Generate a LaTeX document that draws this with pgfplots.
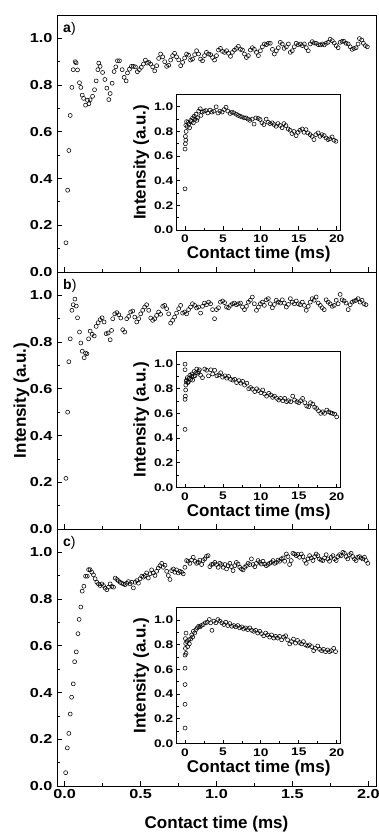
\documentclass[border=0pt]{standalone}
\usepackage{pgfplots}
\pgfplotsset{compat=1.18}
\usepackage{fontspec}
\setmainfont{Liberation Sans}
\newfontfamily\tickfont[FakeStretch=1.25]{Liberation Sans}
\pgfplotsset{
  common/.style={
    scale only axis,
    ymin=0, ymax=1.1,
    axis line style={black, line width=0.9pt},
    tick align=inside, xtick pos=bottom, ytick pos=left,
    tick style={black, line width=0.8pt},
    ytick={0,0.2,0.4,0.6,0.8,1.0},
    minor ytick={0.1,0.3,0.5,0.7,0.9},
    yticklabels={0.0,0.2,0.4,0.6,0.8,1.0},
    label style={font=\bfseries\fontsize{17}{17}\selectfont},
  },
  mainax/.style={common,
    width=319pt, height=257pt,
    xmin=-0.05, xmax=2.05,
    xtick={0,0.5,1,1.5,2}, minor xtick={0.25,0.75,1.25,1.75},
    xticklabels={0.0,0.5,1.0,1.5,2.0},
    major tick length=4.5pt, minor tick length=2.5pt,
    tick label style={font=\tickfont\bfseries\fontsize{13}{13}\selectfont},
    yticklabel style={xshift=-1pt},
    xlabel style={yshift=-11pt},
    ylabel style={yshift=-6.5pt},
  },
  inax/.style={common,
    width=164pt, height=135.5pt,
    xmin=-1.1, xmax=20.53,
    xtick={0,5,10,15,20}, minor xtick={2.5,7.5,12.5,17.5},
    xticklabels={0,5,10,15,20},
    major tick length=3.5pt, minor tick length=2pt,
    tick label style={font=\tickfont\bfseries\fontsize{11}{11}\selectfont},
    xticklabel style={yshift=-1.5pt},
    xlabel={Contact time (ms)}, ylabel={Intensity (a.u.)},
    xlabel style={yshift=3pt},
    ylabel style={yshift=-2pt},
    axis background/.style={fill=white},
  },
  pts/.style={only marks, mark=o, mark size=2pt, black, line width=0.55pt},
}
\begin{document}
\begin{tikzpicture}
% ---------------- panel a ----------------
\begin{axis}[mainax, at={(57pt,560pt)}, anchor=south west, xticklabels={}]
\node[anchor=north west, inner sep=0pt, font=\fontsize{14}{14}\selectfont] at ([shift={(6pt,-7pt)}]rel axis cs:0,1) {\textbf{a})};
\addplot[pts] coordinates {
(0.009,0.125)(0.020,0.35)(0.028,0.52)(0.037,0.67)(0.048,0.79)(0.057,0.866)(0.070,0.90)(0.076,0.895)
(0.085,0.865)(0.098,0.81)(0.107,0.79)(0.116,0.757)(0.125,0.743)(0.138,0.714)(0.151,0.735)(0.160,0.72)
(0.168,0.737)(0.184,0.752)(0.197,0.78)(0.208,0.818)(0.219,0.866)(0.225,0.894)(0.234,0.88)(0.250,0.854)
(0.265,0.824)(0.278,0.787)(0.291,0.738)(0.300,0.764)(0.313,0.808)(0.326,0.858)(0.337,0.878)(0.348,0.904)
(0.361,0.904)(0.379,0.866)(0.392,0.833)(0.405,0.818)(0.414,0.852)(0.427,0.868)(0.440,0.88)(0.453,0.88)
(0.466,0.878)(0.479,0.857)(0.492,0.866)(0.505,0.876)(0.519,0.89)(0.532,0.907)(0.543,0.894)(0.554,0.897)
(0.567,0.89)(0.580,0.878)(0.593,0.861)(0.606,0.883)(0.619,0.914)(0.632,0.933)(0.646,0.921)(0.659,0.90)
(0.672,0.88)(0.685,0.885)(0.698,0.907)(0.711,0.926)(0.724,0.936)(0.737,0.921)(0.751,0.908)(0.764,0.883)
(0.777,0.897)(0.790,0.916)(0.803,0.933)(0.816,0.928)(0.829,0.907)(0.842,0.911)(0.856,0.93)(0.869,0.947)
(0.882,0.933)(0.895,0.911)(0.908,0.904)(0.921,0.926)(0.934,0.94)(0.948,0.933)(0.961,0.93)(0.974,0.918)
(0.987,0.907)(1.000,0.926)(1.013,0.95)(1.026,0.957)(1.040,0.944)(1.053,0.94)(1.066,0.947)(1.079,0.936)
(1.092,0.923)(1.105,0.94)(1.118,0.95)(1.131,0.957)(1.144,0.966)(1.158,0.953)(1.171,0.95)(1.184,0.933)
(1.197,0.918)(1.210,0.926)(1.223,0.95)(1.236,0.96)(1.249,0.953)(1.263,0.94)(1.276,0.926)(1.289,0.947)
(1.302,0.964)(1.315,0.976)(1.328,0.973)(1.341,0.979)(1.354,0.979)(1.368,0.953)(1.381,0.933)(1.394,0.947)
(1.407,0.96)(1.420,0.983)(1.433,0.976)(1.446,0.957)(1.460,0.964)(1.473,0.976)(1.486,0.94)(1.499,0.947)
(1.512,0.964)(1.525,0.979)(1.538,0.973)(1.551,0.976)(1.565,0.969)(1.578,0.976)(1.591,0.96)(1.604,0.947)
(1.617,0.976)(1.630,0.986)(1.643,0.98)(1.656,0.979)(1.670,0.973)(1.683,0.972)(1.696,0.976)(1.709,0.972)
(1.722,0.979)(1.735,0.983)(1.748,0.996)(1.762,0.99)(1.775,0.98)(1.788,0.969)(1.801,0.96)(1.814,0.983)
(1.827,0.987)(1.840,0.987)(1.853,0.979)(1.867,0.976)(1.880,0.964)(1.893,0.953)(1.906,0.957)(1.919,0.96)
(1.932,0.976)(1.941,0.999)(1.956,0.993)(1.967,0.979)(1.980,0.969)(1.993,0.964)
};
\end{axis}
\begin{axis}[inax, at={(176.7pt,602pt)}, anchor=south west]
\addplot[pts] coordinates {
(0.0,0.334)(0.0,0.657)(0.05,0.70)(0.05,0.76)(0.1,0.73)(0.15,0.80)(0.1,0.85)(0.2,0.88)(0.3,0.84)(0.4,0.875)
(0.5,0.86)(0.6,0.83)(0.75,0.89)(0.85,0.88)(1.0,0.91)(1.1,0.87)(1.2,0.924)(1.3,0.90)(1.45,0.94)(1.55,0.89)
(1.65,0.91)(1.8,0.965)(2.0,0.984)(2.1,0.93)(2.25,0.957)(2.5,0.965)(2.75,0.97)(3.0,0.95)(3.3,0.973)(3.55,0.957)
(3.8,0.965)(4.1,1.0)(4.35,0.95)(4.6,0.965)(4.9,0.957)(5.15,0.978)(5.4,0.997)(5.65,0.965)(5.95,0.946)(6.2,0.957)
(6.45,0.95)(6.75,0.94)(7.0,0.93)(7.25,0.924)(7.5,0.918)(7.8,0.91)(8.05,0.91)(8.3,0.90)(8.55,0.89)(8.85,0.90)
(9.1,0.86)(9.35,0.91)(9.65,0.905)(9.9,0.897)(10.15,0.87)(10.4,0.856)(10.7,0.90)(10.95,0.875)(11.2,0.864)(11.5,0.87)
(11.75,0.856)(12.0,0.842)(12.25,0.864)(12.55,0.848)(12.8,0.83)(13.05,0.864)(13.3,0.848)(13.6,0.82)(13.85,0.81)(14.1,0.783)
(14.35,0.80)(14.65,0.766)(14.9,0.793)(15.15,0.81)(15.45,0.82)(15.7,0.793)(15.95,0.815)(16.2,0.788)(16.5,0.774)(16.75,0.76)
(17.0,0.734)(17.25,0.774)(17.55,0.788)(17.8,0.76)(18.05,0.774)(18.35,0.766)(18.6,0.747)(18.85,0.734)(19.1,0.74)(19.4,0.755)
(19.65,0.728)(19.9,0.72)
};
\end{axis}
% ---------------- panel b ----------------
\begin{axis}[mainax, at={(57pt,303pt)}, anchor=south west, xticklabels={}, ylabel={Intensity (a.u.)}]
\node[anchor=north west, inner sep=0pt, font=\fontsize{14}{14}\selectfont] at ([shift={(6pt,-7pt)}]rel axis cs:0,1) {\textbf{b})};
\addplot[pts] coordinates {
(0.009,0.217)(0.020,0.50)(0.028,0.716)(0.037,0.814)(0.048,0.936)(0.057,0.96)(0.068,0.984)(0.077,0.954)
(0.085,0.904)(0.098,0.843)(0.107,0.796)(0.116,0.761)(0.129,0.733)(0.138,0.753)(0.147,0.75)(0.158,0.814)
(0.168,0.847)(0.182,0.833)(0.195,0.826)(0.208,0.867)(0.221,0.883)(0.234,0.896)(0.247,0.904)(0.260,0.886)
(0.274,0.836)(0.287,0.839)(0.300,0.81)(0.309,0.85)(0.317,0.90)(0.330,0.921)(0.344,0.926)(0.357,0.917)
(0.370,0.903)(0.383,0.853)(0.396,0.843)(0.409,0.90)(0.422,0.91)(0.435,0.929)(0.449,0.933)(0.462,0.907)
(0.475,0.886)(0.488,0.90)(0.501,0.921)(0.514,0.936)(0.527,0.95)(0.540,0.96)(0.554,0.936)(0.567,0.903)
(0.580,0.893)(0.593,0.90)(0.606,0.914)(0.619,0.929)(0.632,0.919)(0.646,0.953)(0.659,0.957)(0.672,0.943)
(0.685,0.921)(0.698,0.881)(0.711,0.893)(0.724,0.907)(0.737,0.924)(0.751,0.943)(0.764,0.957)(0.777,0.924)
(0.790,0.929)(0.803,0.921)(0.816,0.939)(0.829,0.95)(0.842,0.964)(0.856,0.957)(0.869,0.946)(0.882,0.95)
(0.895,0.924)(0.908,0.953)(0.921,0.967)(0.934,0.96)(0.948,0.971)(0.961,0.964)(0.974,0.939)(0.987,0.90)
(1.000,0.939)(1.013,0.947)(1.026,0.971)(1.040,0.976)(1.053,0.969)(1.066,0.95)(1.079,0.947)(1.092,0.957)
(1.105,0.964)(1.118,0.967)(1.131,0.96)(1.144,0.964)(1.158,0.967)(1.171,0.95)(1.184,0.939)(1.197,0.953)
(1.210,0.971)(1.223,0.979)(1.236,0.993)(1.249,0.964)(1.263,0.936)(1.276,0.95)(1.289,0.964)(1.302,0.971)
(1.315,0.957)(1.328,0.981)(1.341,0.986)(1.354,0.964)(1.368,0.947)(1.381,0.961)(1.394,0.979)(1.407,0.971)
(1.420,0.967)(1.433,0.981)(1.446,0.967)(1.460,0.95)(1.473,0.961)(1.486,0.986)(1.499,0.971)(1.512,0.964)
(1.525,0.976)(1.538,0.964)(1.551,0.96)(1.565,0.971)(1.578,0.957)(1.591,0.936)(1.604,0.953)(1.617,0.971)
(1.630,0.986)(1.643,0.979)(1.656,0.993)(1.670,0.967)(1.683,0.957)(1.696,0.947)(1.709,0.939)(1.722,0.981)
(1.735,0.971)(1.748,0.964)(1.762,0.953)(1.775,0.957)(1.788,0.979)(1.801,0.964)(1.814,1.004)(1.827,0.981)
(1.840,0.976)(1.853,0.967)(1.867,0.939)(1.880,0.96)(1.893,0.971)(1.906,0.976)(1.919,0.979)(1.932,0.986)
(1.945,0.971)(1.958,0.979)(1.971,0.964)(1.984,0.96)
};
\end{axis}
\begin{axis}[inax, at={(176.7pt,344.7pt)}, anchor=south west]
\addplot[pts] coordinates {
(0.0,0.47)(0.0,1.0)(0.0,0.954)(0.0,0.714)(0.05,0.74)(0.08,0.79)(0.1,0.83)(0.15,0.86)(0.2,0.87)(0.3,0.89)
(0.35,0.85)(0.45,0.856)(0.55,0.886)(0.65,0.91)(0.75,0.877)(0.85,0.90)(0.92,0.92)(1.0,0.87)(1.1,0.90)(1.2,0.94)
(1.3,0.905)(1.45,0.93)(1.55,0.96)(1.7,0.926)(1.8,0.94)(1.9,0.954)(2.05,0.91)(2.3,0.89)(2.6,0.96)(2.85,0.95)
(3.1,0.905)(3.4,0.954)(3.65,0.92)(3.9,0.95)(4.2,0.905)(4.45,0.913)(4.7,0.93)(4.95,0.894)(5.25,0.905)(5.5,0.886)
(5.75,0.90)(6.0,0.877)(6.3,0.87)(6.55,0.877)(6.8,0.85)(7.1,0.866)(7.35,0.845)(7.6,0.86)(7.85,0.83)(8.15,0.845)
(8.4,0.80)(8.65,0.81)(8.9,0.796)(9.2,0.777)(9.45,0.80)(9.7,0.785)(10.0,0.768)(10.25,0.79)(10.5,0.757)(10.75,0.74)
(11.05,0.763)(11.3,0.75)(11.55,0.73)(11.8,0.74)(12.1,0.722)(12.35,0.708)(12.6,0.722)(12.9,0.703)(13.15,0.722)(13.4,0.695)
(13.65,0.703)(13.95,0.695)(14.2,0.74)(14.45,0.708)(14.75,0.695)(15.0,0.687)(15.25,0.703)(15.5,0.722)(15.8,0.687)(16.05,0.66)
(16.3,0.654)(16.55,0.687)(16.85,0.676)(17.1,0.65)(17.35,0.64)(17.6,0.621)(17.9,0.60)(18.15,0.613)(18.4,0.60)(18.7,0.627)
(18.95,0.613)(19.2,0.605)(19.45,0.60)(19.75,0.594)(20.0,0.572)
};
\end{axis}
% ---------------- panel c ----------------
\begin{axis}[mainax, at={(57pt,46pt)}, anchor=south west, xlabel={Contact time (ms)}]
\node[anchor=north west, inner sep=0pt, font=\fontsize{14}{14}\selectfont] at ([shift={(6pt,-7pt)}]rel axis cs:0,1) {\textbf{c})};
\addplot[pts] coordinates {
(0.007,0.057)(0.018,0.163)(0.028,0.225)(0.037,0.308)(0.046,0.38)(0.057,0.437)(0.066,0.532)(0.077,0.574)
(0.088,0.652)(0.096,0.713)(0.107,0.766)(0.116,0.834)(0.127,0.855)(0.138,0.898)(0.149,0.898)(0.158,0.926)
(0.168,0.926)(0.179,0.915)(0.190,0.904)(0.201,0.887)(0.212,0.872)(0.223,0.865)(0.234,0.858)(0.245,0.865)
(0.256,0.858)(0.267,0.847)(0.278,0.84)(0.289,0.851)(0.300,0.865)(0.311,0.854)(0.322,0.851)(0.333,0.89)
(0.344,0.884)(0.354,0.879)(0.365,0.872)(0.376,0.868)(0.387,0.865)(0.398,0.862)(0.409,0.868)(0.420,0.875)
(0.431,0.865)(0.442,0.872)(0.453,0.848)(0.464,0.872)(0.475,0.879)(0.486,0.868)(0.497,0.887)(0.508,0.898)
(0.519,0.894)(0.530,0.901)(0.540,0.912)(0.551,0.89)(0.562,0.908)(0.573,0.925)(0.584,0.912)(0.595,0.901)
(0.606,0.919)(0.617,0.933)(0.628,0.943)(0.639,0.953)(0.650,0.936)(0.661,0.945)(0.672,0.919)(0.683,0.901)
(0.694,0.884)(0.705,0.922)(0.716,0.929)(0.726,0.915)(0.737,0.925)(0.748,0.912)(0.759,0.919)(0.770,0.915)
(0.781,0.908)(0.792,0.936)(0.803,0.965)(0.814,0.962)(0.825,0.953)(0.836,0.967)(0.847,0.979)(0.858,0.962)
(0.869,0.953)(0.880,0.957)(0.891,0.967)(0.902,0.948)(0.912,0.965)(0.923,0.972)(0.934,0.983)(0.945,0.986)
(0.956,0.939)(0.967,0.948)(0.978,0.95)(0.989,0.957)(1.000,0.948)(1.011,0.936)(1.022,0.953)(1.033,0.948)
(1.044,0.936)(1.055,0.948)(1.066,0.929)(1.077,0.943)(1.088,0.953)(1.098,0.939)(1.109,0.922)(1.120,0.943)
(1.131,0.957)(1.142,0.95)(1.153,0.936)(1.164,0.929)(1.175,0.925)(1.186,0.936)(1.197,0.943)(1.208,0.953)
(1.219,0.948)(1.230,0.972)(1.241,0.948)(1.252,0.939)(1.263,0.953)(1.274,0.965)(1.284,0.957)(1.295,0.95)
(1.306,0.962)(1.317,0.95)(1.328,0.943)(1.339,0.948)(1.350,0.953)(1.361,0.957)(1.372,0.965)(1.383,0.953)
(1.394,0.957)(1.405,0.967)(1.416,0.962)(1.427,0.972)(1.438,0.976)(1.449,0.962)(1.460,0.993)(1.470,0.982)
(1.481,0.948)(1.492,0.965)(1.503,0.996)(1.514,0.993)(1.525,0.986)(1.536,0.991)(1.547,0.979)(1.558,0.993)
(1.569,0.982)(1.580,0.965)(1.591,0.953)(1.602,0.972)(1.613,0.986)(1.624,0.976)(1.635,0.965)(1.646,0.982)
(1.656,0.993)(1.667,0.986)(1.678,0.972)(1.689,0.967)(1.700,0.965)(1.711,0.976)(1.722,0.99)(1.733,0.972)
(1.744,0.962)(1.755,0.979)(1.766,0.986)(1.777,0.972)(1.788,0.965)(1.799,0.982)(1.810,0.99)(1.821,0.986)
(1.832,1.0)(1.842,0.996)(1.853,0.982)(1.864,0.972)(1.875,0.99)(1.886,0.996)(1.897,0.982)(1.908,0.972)
(1.919,0.965)(1.930,0.979)(1.941,0.982)(1.952,0.976)(1.963,0.972)(1.974,0.979)(1.985,0.965)(1.996,0.953)
};
\end{axis}
\begin{axis}[inax, at={(176.7pt,88.7pt)}, anchor=south west]
\addplot[pts] coordinates {
(0.0,0.124)(0.0,0.317)(0.0,0.477)(0.0,0.61)(0.0,0.716)(0.05,0.77)(0.13,0.73)(0.09,0.81)(0.05,0.85)(0.13,0.895)
(0.22,0.826)(0.35,0.785)(0.48,0.84)(0.57,0.807)(0.74,0.846)(0.88,0.88)(1.0,0.862)(1.1,0.909)(1.27,0.895)(1.44,0.923)
(1.62,0.937)(1.79,0.95)(1.97,0.945)(2.14,0.956)(2.4,0.964)(2.67,0.978)(2.93,0.983)(3.2,1.005)(3.37,0.978)(3.55,0.917)
(3.8,0.992)(4.07,0.978)(4.33,1.005)(4.6,0.992)(4.86,0.978)(5.12,0.964)(5.38,0.983)(5.65,0.956)(5.9,0.972)(6.17,0.95)
(6.43,0.956)(6.7,0.945)(6.96,0.956)(7.22,0.937)(7.48,0.945)(7.75,0.928)(8.0,0.937)(8.27,0.923)(8.54,0.937)(8.8,0.917)
(9.06,0.909)(9.32,0.917)(9.59,0.895)(9.85,0.909)(10.1,0.89)(10.37,0.873)(10.64,0.895)(10.9,0.88)(11.16,0.862)(11.42,0.88)
(11.7,0.854)(11.95,0.868)(12.2,0.854)(12.47,0.868)(12.74,0.84)(13.0,0.862)(13.26,0.873)(13.52,0.84)(13.8,0.807)(14.05,0.826)
(14.3,0.846)(14.57,0.813)(14.84,0.835)(15.1,0.818)(15.36,0.807)(15.62,0.826)(15.9,0.799)(16.15,0.79)(16.4,0.799)(16.7,0.785)
(16.96,0.752)(17.2,0.771)(17.5,0.79)(17.75,0.763)(18.0,0.752)(18.27,0.763)(18.53,0.744)(18.8,0.758)(19.05,0.744)(19.3,0.752)
(19.6,0.771)(19.85,0.744)
};
\end{axis}
\pgfresetboundingbox
\path[use as bounding box] (0,0) rectangle (379pt,832pt);
\end{tikzpicture}
\end{document}
